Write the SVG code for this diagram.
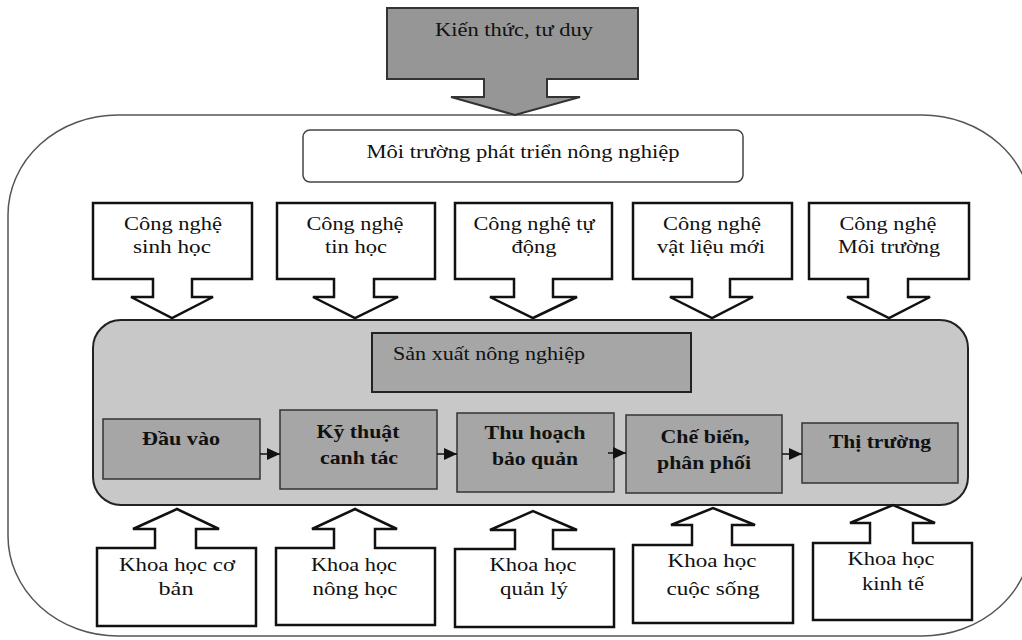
<svg xmlns="http://www.w3.org/2000/svg" width="1022" height="640" viewBox="0 0 1022 640">
<style>
.t{font-family:"Liberation Serif","Times New Roman",serif;font-size:19px;fill:#111;text-anchor:middle}
.b{font-weight:bold}
.l{text-anchor:start}
.call{fill:#fff;stroke:#111;stroke-width:2.5;stroke-linejoin:miter}
.proc{fill:#a6a6a6;stroke:#333;stroke-width:1.5}
.conn{stroke:#111;stroke-width:1.5;fill:none}
</style>
<defs>
<marker id="ah" markerUnits="userSpaceOnUse" markerWidth="14" markerHeight="12" refX="13" refY="6" orient="auto">
<path d="M0,0 L13,6 L0,12 Z" fill="#111"/>
</marker>
</defs>
<rect id="outer" x="8" y="115" width="1024" height="521" rx="110" ry="100" fill="#fff" stroke="#555" stroke-width="1.5"/>
<g id="kienthuc">
<path d="M387,8 H638 V79 H547 V97 H580 L515,115 L451,97 H484 V79 H387 Z" fill="#969696" stroke="#333" stroke-width="2"/>
<text class="t" x="514" y="36" textLength="158" lengthAdjust="spacingAndGlyphs">Kiến thức, tư duy</text>
</g>
<g id="moitruong">
<rect x="303" y="130" width="440" height="52" rx="7" fill="#fff" stroke="#444" stroke-width="1.5"/>
<text class="t" x="523" y="158" textLength="313" lengthAdjust="spacingAndGlyphs">Môi trường phát triển nông nghiệp</text>
</g>
<g id="cn1">
<path class="call" d="M93,203 H252 V279 H192 V297 H213 L172,318 L131,297 H153 V279 H93 Z"/>
<text class="t" x="173" y="230" textLength="98" lengthAdjust="spacingAndGlyphs">Công nghệ</text>
<text class="t" x="172" y="253" textLength="78" lengthAdjust="spacingAndGlyphs">sinh học</text>
</g>
<g id="cn2">
<path class="call" d="M277,203 H435 V279 H374 V297 H398 L355,318 L313,297 H334 V279 H277 Z"/>
<text class="t" x="355" y="230" textLength="97" lengthAdjust="spacingAndGlyphs">Công nghệ</text>
<text class="t" x="356" y="253" textLength="62" lengthAdjust="spacingAndGlyphs">tin học</text>
</g>
<g id="cn3">
<path class="call" d="M455,203 H612 V279 H553 V297 H577 L533,318 L490,297 H514 V279 H455 Z"/>
<text class="t" x="534" y="230" textLength="121" lengthAdjust="spacingAndGlyphs">Công nghệ tự</text>
<text class="t" x="534" y="253" textLength="45" lengthAdjust="spacingAndGlyphs">động</text>
</g>
<g id="cn4">
<path class="call" d="M633,203 H792 V279 H730 V297 H753 L712,318 L670,297 H692 V279 H633 Z"/>
<text class="t" x="712" y="230" textLength="98" lengthAdjust="spacingAndGlyphs">Công nghệ</text>
<text class="t" x="711" y="253" textLength="108" lengthAdjust="spacingAndGlyphs">vật liệu mới</text>
</g>
<g id="cn5">
<path class="call" d="M809,203 H969 V279 H908 V297 H930 L889,318 L847,297 H868 V279 H809 Z"/>
<text class="t" x="888" y="230" textLength="97" lengthAdjust="spacingAndGlyphs">Công nghệ</text>
<text class="t" x="889" y="253" textLength="102" lengthAdjust="spacingAndGlyphs">Môi trường</text>
</g>
<g id="sanxuat">
<rect x="93" y="320" width="875" height="185" rx="28" fill="#c8c8c8" stroke="#222" stroke-width="2"/>
<rect x="372" y="333" width="319" height="59" fill="#a6a6a6" stroke="#222" stroke-width="2"/>
<text class="t l" x="393" y="360" textLength="192" lengthAdjust="spacingAndGlyphs">Sản xuất nông nghiệp</text>
</g>
<g id="daurao">
<rect class="proc" x="103" y="419" width="157" height="60"/>
<text class="t b" x="181" y="445" textLength="78" lengthAdjust="spacingAndGlyphs">Đầu vào</text>
</g>
<g id="kythuat">
<rect class="proc" x="280" y="410" width="157" height="79"/>
<text class="t b" x="358" y="438" textLength="83" lengthAdjust="spacingAndGlyphs">Kỹ thuật</text>
<text class="t b" x="359" y="464" textLength="78" lengthAdjust="spacingAndGlyphs">canh tác</text>
</g>
<g id="thuhoach">
<rect class="proc" x="457" y="413" width="157" height="79"/>
<text class="t b" x="535" y="439" textLength="101" lengthAdjust="spacingAndGlyphs">Thu hoạch</text>
<text class="t b" x="535" y="465" textLength="86" lengthAdjust="spacingAndGlyphs">bảo quản</text>
</g>
<g id="chebien">
<rect class="proc" x="626" y="415" width="156" height="78"/>
<text class="t b" x="705" y="443" textLength="89" lengthAdjust="spacingAndGlyphs">Chế biến,</text>
<text class="t b" x="704" y="469" textLength="94" lengthAdjust="spacingAndGlyphs">phân phối</text>
</g>
<g id="thitruong">
<rect class="proc" x="802" y="423" width="156" height="60"/>
<text class="t b" x="880" y="448" textLength="102" lengthAdjust="spacingAndGlyphs">Thị trường</text>
</g>
<g id="kh1">
<path class="call" d="M97,626 V548 H155 V529 H133 L177,509 L219,529 H196 V548 H256 V626 Z"/>
<text class="t" x="177" y="571" textLength="116" lengthAdjust="spacingAndGlyphs">Khoa học cơ</text>
<text class="t" x="176" y="595" textLength="35" lengthAdjust="spacingAndGlyphs">bản</text>
</g>
<g id="kh2">
<path class="call" d="M276,625 V548 H334 V529 H312 L355,509 L397,529 H375 V548 H435 V625 Z"/>
<text class="t" x="354" y="571" textLength="86" lengthAdjust="spacingAndGlyphs">Khoa học</text>
<text class="t" x="355" y="595" textLength="85" lengthAdjust="spacingAndGlyphs">nông học</text>
</g>
<g id="kh3">
<path class="call" d="M455,627 V549 H515 V530 H490 L533,511 L577,530 H553 V549 H614 V627 Z"/>
<text class="t" x="533" y="571" textLength="87" lengthAdjust="spacingAndGlyphs">Khoa học</text>
<text class="t" x="534" y="595" textLength="68" lengthAdjust="spacingAndGlyphs">quản lý</text>
</g>
<g id="kh4">
<path class="call" d="M633,623 V545 H692 V525 H671 L713,508 L755,525 H732 V545 H793 V623 Z"/>
<text class="t" x="712" y="567" textLength="89" lengthAdjust="spacingAndGlyphs">Khoa học</text>
<text class="t" x="713" y="595" textLength="93" lengthAdjust="spacingAndGlyphs">cuộc sống</text>
</g>
<g id="kh5">
<path class="call" d="M813,620 V543 H870 V523 H850 L893,505 L935,523 H913 V543 H972 V620 Z"/>
<text class="t" x="891" y="565" textLength="87" lengthAdjust="spacingAndGlyphs">Khoa học</text>
<text class="t" x="893" y="590" textLength="62" lengthAdjust="spacingAndGlyphs">kinh tế</text>
</g>
<g id="connectors">
<line class="conn" x1="260" y1="454" x2="280" y2="454" marker-end="url(#ah)"/>
<line class="conn" x1="437" y1="454" x2="457" y2="454" marker-end="url(#ah)"/>
<line class="conn" x1="608" y1="453" x2="626" y2="453" marker-end="url(#ah)"/>
<line class="conn" x1="782" y1="454" x2="802" y2="454" marker-end="url(#ah)"/>
</g>
</svg>
